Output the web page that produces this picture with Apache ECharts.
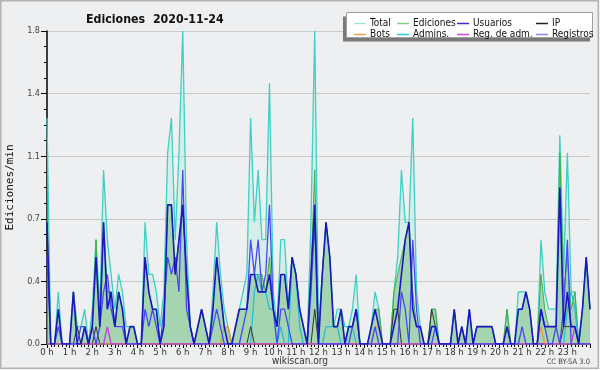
<!DOCTYPE html>
<html><head><meta charset="utf-8">
<script src="https://cdn.jsdelivr.net/npm/echarts@6/dist/echarts.min.js"></script>
<style>html,body{margin:0;padding:0;background:#eeeff0}#c{width:600px;height:370px}</style>
</head><body><div id="c"></div>
<script>
const hourLabels = ['0 h','1 h','2 h','3 h','4 h','5 h','6 h','7 h','8 h','9 h','10 h','11 h','12 h','13 h','14 h','15 h','16 h','17 h','18 h','19 h','20 h','21 h','22 h','23 h'];
const yTickLabels = ['0.0','0.4','0.7','1.1','1.4','1.8'];
const seriesNames = ['Total','Ediciones','Usuarios','IP','Bots','Admins.','Reg. de adm.','Registros'];
// one value every 10 minutes, 0:00 .. 24:00 (edits per minute)
const total = [1.3,0,0,.3,0,0,0,.3,.1,.1, .2,0,.2,.6,.2,1.0,.6,.4,.2,.4, .3,.1,.1,.1,0,0,.7,.4,.4,.3, .1,.3,1.1,1.3,.6,1.1,1.8,.6,.1,0, .1,.2,.1,0,.3,.7,.4,.2,.1,0, .1,.2,.3,.4,1.3,.7,1.0,.6,.6,1.5, .3,.1,.6,.6,.2,.5,.4,.2,.1,0, .7,1.8,.1,.4,.7,.5,.1,.2,.2,.1, .1,.2,.4,0,0,0,.1,.3,.2,0, 0,0,.3,.5,1.0,.7,.7,1.3,.3,.1, 0,0,.2,.2,0,0,0,0,.2,0, .1,0,.2,0,.1,.1,.1,.1,.1,0, 0,0,.2,0,0,.3,.3,.3,.2,0, 0,.6,.3,.2,.2,.2,1.2,.4,1.1,.3, .3,0,.2,.5,.2];
const ediciones = [.7,0,0,.2,0,0,0,.3,.1,0, .1,0,.1,.6,.1,.7,.3,.3,.1,.3, .2,0,.1,.1,0,0,.5,.3,.2,.2, 0,.1,.8,.8,.4,.6,.8,.4,.1,0, .1,.2,.1,0,.2,.5,.3,.1,.1,0, .1,.2,.2,.2,.4,.4,.4,.4,.3,.5, .2,.1,.4,.4,.2,.5,.4,.2,.1,0, .4,1.0,0,.4,.7,.5,.1,.1,.2,0, .1,.1,.2,0,0,0,.1,.2,.2,0, 0,0,.3,.4,.5,.6,.7,.3,.1,.1, 0,0,.2,.2,0,0,0,0,.2,0, .1,0,.2,0,.1,.1,.1,.1,.1,0, 0,0,.2,0,0,.2,.2,.3,.2,0, 0,.4,.2,.1,.1,.1,1.1,.3,.5,.2, .3,0,.2,.5,.2];
const usuarios = [.7,0,0,.2,0,0,0,.3,0,0, .1,0,.1,.5,.1,.7,.2,.3,.1,.3, .2,0,.1,.1,0,0,.5,.3,.2,.2, 0,.1,.8,.8,.4,.6,.8,.4,.1,0, .1,.2,.1,0,.2,.5,.3,.1,0,0, .1,.2,.2,.2,.4,.4,.3,.3,.3,.4, .2,.1,.4,.4,.2,.5,.4,.2,.1,0, .4,.8,0,.4,.7,.5,.1,.1,.2,0, .1,.1,.2,0,0,0,.1,.2,.1,0, 0,0,.1,.2,.4,.6,.7,.2,.1,.1, 0,0,.1,.1,0,0,0,0,.2,0, .1,0,.2,0,.1,.1,.1,.1,.1,0, 0,0,.1,0,0,.2,.2,.3,.2,0, 0,.2,.1,.1,.1,.1,.9,.1,.3,.1, .1,0,.2,.5,.2];
const ip = [0,0,0,0,0,0,0,0,.1,0, 0,0,0,.1,0,0,0,0,0,0, 0,0,0,0,0,0,0,0,0,0, 0,0,0,0,0,0,0,0,0,0, 0,0,0,0,0,0,0,0,0,0, 0,0,0,0,.1,0,0,0,0,0, 0,0,0,0,0,0,0,0,0,0, 0,.2,0,0,0,0,0,0,0,0, 0,0,0,0,0,0,0,0,0,0, 0,0,.2,.2,0,0,0,0,0,0, 0,0,.2,.1,0,0,0,0,0,0, 0,0,0,0,0,0,0,0,0,0, 0,0,0,0,0,0,0,0,0,0, 0,0,0,0,0,0,0,.1,.1,.1, .1,0,0,0,0];
const bots = [0,0,0,0,0,0,0,0,0,0, 0,0,0,0,0,0,0,0,0,0, 0,0,0,0,0,0,0,0,0,0, 0,0,0,0,0,0,0,0,0,0, 0,0,0,0,0,0,0,.1,.1,0, 0,0,0,0,0,0,0,0,0,0, 0,0,0,0,0,0,0,0,0,0, 0,0,0,0,0,0,0,0,0,0, 0,0,0,0,0,0,0,.1,.1,0, 0,0,0,0,0,0,0,0,0,0, 0,0,0,0,0,0,0,0,0,0, 0,0,0,0,0,0,0,0,0,0, 0,0,.1,0,0,0,0,0,0,0, 0,.1,0,0,0,0,0,0,0,0, 0,0,0,0,0];
const admins = [0,0,0,0,0,0,0,0,0,0, 0,0,0,0,0,0,0,0,0,0, 0,0,0,0,0,0,0,0,0,0, 0,0,0,0,0,0,0,0,0,0, 0,0,0,0,0,0,0,0,0,0, 0,0,0,0,0,.3,.4,.3,.3,.2, .2,0,.1,0,0,.5,.4,.1,0,0, 0,0,0,0,.1,.1,.1,.1,0,0, .1,.1,0,0,0,0,0,0,0,0, 0,0,0,0,0,0,0,0,0,0, 0,0,0,0,0,0,0,0,0,0, 0,0,0,0,0,0,0,0,0,0, 0,0,0,0,0,0,0,0,0,0, 0,0,0,0,0,0,0,0,.2,.3, .2,0,0,0,0];
const regAdm = [0,0,0,0,0,0,0,0,0,0, 0,0,0,0,0,0,.1,0,0,0, 0,0,0,0,0,0,0,0,0,0, 0,0,0,0,0,0,0,0,0,0, 0,0,0,0,0,0,0,0,0,0, 0,0,0,0,0,0,0,0,0,0, 0,0,0,0,0,0,0,0,0,0, 0,0,0,0,0,0,0,0,0,0, 0,0,0,0,0,0,0,0,0,0, 0,0,0,0,0,0,0,0,0,0, 0,0,0,0,0,0,0,0,0,0, 0,0,0,0,0,0,0,0,0,0, 0,0,0,0,0,0,0,0,0,0, 0,0,0,0,0,0,0,0,0,0, .1,0,0,0,0];
const registros = [.5,0,0,.1,0,0,0,0,0,.1, .1,0,.1,0,.1,.3,.4,.2,.1,.1, .1,0,0,0,0,0,.2,.1,.2,.1, 0,.2,.5,.4,.5,.3,1.0,.2,.1,0, 0,0,0,0,.1,.2,.1,0,0,0, 0,0,.1,.2,.6,.4,.6,.3,.4,.8, .2,0,.2,.2,.1,0,0,0,0,0, .3,.7,0,0,0,0,0,0,0,0, 0,.1,.2,0,0,0,0,.1,0,0, 0,0,0,0,.3,.2,0,.6,.2,0, 0,0,0,.1,0,0,0,0,0,0, 0,0,0,0,0,0,0,0,0,0, 0,0,0,0,0,0,.1,0,0,0, 0,.2,.1,0,0,.1,0,.2,.6,0, 0,0,0,0,0];

const F = "'DejaVu Sans Condensed','Liberation Sans',sans-serif";
function pts(arr){ return arr.map((v,i)=>[i*10, v]); }
function line(name, arr, color, lcolor, width, z, area){
  const s = {name, type:'line', data:pts(arr), symbol:'none', silent:true, z,
    itemStyle:{color}, lineStyle:{color:lcolor, width}, emphasis:{disabled:true}};
  if(area) s.areaStyle = {color:area, opacity:1};
  return s;
}
const legendBase = {orient:'vertical', top:13, itemWidth:12, itemHeight:1.5, itemGap:0, icon:'rect',
  textStyle:{fontFamily:F, fontSize:10, color:'#111', lineHeight:11, padding:[0,0,0,-1]}, selectedMode:false, z:10};
const chart = echarts.init(document.getElementById('c'));
chart.setOption({
  backgroundColor:'#eeeff0',
  animation:false,
  title:{text:'Ediciones  2020-11-24', left:81, top:9, textStyle:{fontFamily:F, fontSize:12.3, fontWeight:'bold', color:'#111'}},
  grid:{left:47, right:10, top:31, bottom:26, outerBoundsMode:'none', containLabel:false},
  legend:[
    Object.assign({}, legendBase, {left:349, data:[seriesNames[0], seriesNames[4]]}),
    Object.assign({}, legendBase, {left:392, data:[seriesNames[1], seriesNames[5]]}),
    Object.assign({}, legendBase, {left:452, data:[seriesNames[2], seriesNames[6]]}),
    Object.assign({}, legendBase, {left:531, data:[seriesNames[3], seriesNames[7]]})
  ],
  graphic:[
    {type:'rect', z:-1, shape:{x:0.75, y:0.75, width:597.5, height:367.5}, style:{fill:'none', stroke:'#b4b4b4', lineWidth:1.5}},
    {type:'rect', z:5, shape:{x:343, y:16.5, width:247, height:25}, style:{fill:'#7a7a7a'}},
    {type:'rect', z:6, shape:{x:346.5, y:12.5, width:246, height:25}, style:{fill:'#ffffff', stroke:'#a0a0a0', lineWidth:1}},
    {type:'text', z:6, x:300, y:356, style:{text:'wikiscan.org', fontFamily:F, fontSize:10, fill:'#333', textAlign:'center'}},
    {type:'text', z:6, x:590, y:358, style:{text:'CC BY-SA 3.0', fontFamily:F, fontSize:7.5, fill:'#444', textAlign:'right'}}
  ],
  xAxis:{type:'value', min:0, max:1440, interval:60,
    axisLine:{show:true, onZero:false, lineStyle:{color:'#000', width:1.5}},
    axisTick:{show:true, length:4, lineStyle:{color:'#000'}},
    minorTick:{show:true, splitNumber:6, length:3, lineStyle:{color:'#000'}},
    splitLine:{show:false},
    axisLabel:{fontFamily:F, fontSize:9.5, color:'#333', margin:4, showMaxLabel:false,
      formatter:v=>{const k=Math.round(v/60); return k<hourLabels.length? hourLabels[k] : '';}}},
  yAxis:{type:'value', min:0, max:1.8, interval:0.36,
    axisLine:{show:true, lineStyle:{color:'#000', width:1.5}},
    axisTick:{show:true, length:6, lineStyle:{color:'#000'}},
    minorTick:{show:true, splitNumber:4, length:3, lineStyle:{color:'#000'}},
    splitLine:{lineStyle:{color:'#c9c9c9', width:1}},
    axisLabel:{fontFamily:F, fontSize:9, color:'#444', margin:7,
      formatter:v=>yTickLabels[Math.round(v/0.36)]},
    name:'Ediciones/min', nameLocation:'middle', nameGap:31,
    nameTextStyle:{fontFamily:"'DejaVu Sans Mono',monospace", fontSize:11, color:'#111'}},
  series:[
    line(seriesNames[0], total, '#a6e6dc', '#3fcfc3', 1.3, 1, 'rgba(180,236,224,0.4)'),
    line(seriesNames[1], ediciones, '#7ccf7c', '#45ad45', 1, 2, 'rgba(95,180,95,0.42)'),
    line(seriesNames[5], admins, '#30c8d8', '#27bfd5', 1.3, 3),
    line(seriesNames[3], ip, '#222222', '#333333', 1, 4),
    line(seriesNames[4], bots, '#f0a040', '#ee9a30', 1.3, 4),
    line(seriesNames[6], regAdm, '#c848e0', '#c040e0', 1.3, 4),
    line(seriesNames[7], registros, '#8484ec', '#4848f2', 1.3, 5),
    line(seriesNames[2], usuarios, '#3434cc', '#1818bf', 1.6, 6)
  ]
});
</script></body></html>
